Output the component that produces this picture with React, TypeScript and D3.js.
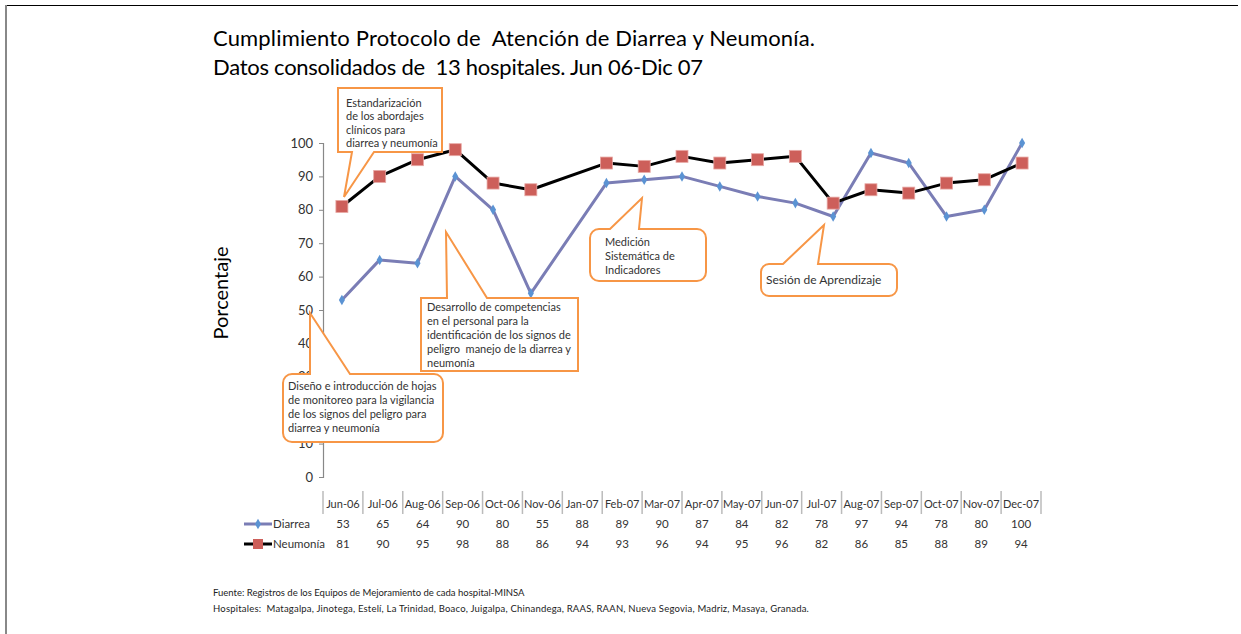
import React, { useEffect, useRef } from "react";
import * as d3 from "d3";

// table columns (as printed under the chart)
const months = [
  "Jun-06", "Jul-06", "Aug-06", "Sep-06", "Oct-06", "Nov-06", "Jan-07", "Feb-07", "Mar-07",
  "Apr-07", "May-07", "Jun-07", "Jul-07", "Aug-07", "Sep-07", "Oct-07", "Nov-07", "Dec-07",
];
// plotted slots: the chart keeps an empty slot for Dec-06
const slots = [
  "Jun-06", "Jul-06", "Aug-06", "Sep-06", "Oct-06", "Nov-06", "Dec-06", "Jan-07", "Feb-07", "Mar-07",
  "Apr-07", "May-07", "Jun-07", "Jul-07", "Aug-07", "Sep-07", "Oct-07", "Nov-07", "Dec-07",
];
const diarrea = [53, 65, 64, 90, 80, 55, 88, 89, 90, 87, 84, 82, 78, 97, 94, 78, 80, 100];
const neumonia = [81, 90, 95, 98, 88, 86, 94, 93, 96, 94, 95, 96, 82, 86, 85, 88, 89, 94];
const yTicks = [0, 10, 20, 30, 40, 50, 60, 70, 80, 90, 100];

const titleLines = [
  "Cumplimiento Protocolo de  Atención de Diarrea y Neumonía.",
  "Datos consolidados de  13 hospitales. Jun 06-Dic 07",
];
const titleWidths = [602, 490];
const footLines = [
  "Fuente: Registros de los Equipos de Mejoramiento de cada hospital-MINSA",
  "Hospitales:  Matagalpa, Jinotega, Estelí, La Trinidad, Boaco, Juigalpa, Chinandega, RAAS, RAAN, Nueva Segovia, Madriz, Masaya, Granada.",
];

const noteTexts = [
  ["Estandarización", "de los abordajes", "clínicos para", "diarrea y neumonía"],
  ["Desarrollo de competencias", "en el personal para la", "identificación de los signos de", "peligro  manejo de la diarrea y", "neumonía"],
  ["Diseño e introducción de hojas", "de monitoreo para la vigilancia", "de los signos del peligro para", "diarrea y neumonía"],
  ["Medición", "Sistemática de", "Indicadores"],
  ["Sesión de Aprendizaje"],
];

// callout geometry (layout only)
const noteBoxes = [
  { x: 338, y: 88, w: 104, h: 64, r: 0, edge: "bottom", a: 352, b: 374, tip: [344, 197], tx: 346, ty: 107, lh: 13.3 },
  { x: 421, y: 298, w: 157, h: 73, r: 0, edge: "top", a: 447, b: 487, tip: [446, 232], tx: 427, ty: 311, lh: 14 },
  { x: 283, y: 374, w: 160, h: 68, r: 9, edge: "top", a: 310, b: 350, tip: [310, 313], tx: 288, ty: 390, lh: 14 },
  { x: 590, y: 229, w: 116, h: 52, r: 9, edge: "top", a: 610, b: 639, tip: [642, 198], tx: 605, ty: 246, lh: 14 },
  { x: 761, y: 264, w: 136, h: 32, r: 8, edge: "top", a: 783, b: 818, tip: [824, 225], tx: 766, ty: 284, lh: 14 },
];

const FONT = "Lato, 'Open Sans', sans-serif";
const ORANGE = "#f79646";
const TEXT = "#333";

function calloutPath(n: any) {
  const { x, y, w, h, r, edge, a, b, tip } = n;
  const p = d3.path();
  p.moveTo(x + r, y);
  if (edge === "top") {
    p.lineTo(a, y);
    p.lineTo(tip[0], tip[1]);
    p.lineTo(b, y);
  }
  p.lineTo(x + w - r, y);
  if (r) p.arcTo(x + w, y, x + w, y + r, r);
  p.lineTo(x + w, y + h - r);
  if (r) p.arcTo(x + w, y + h, x + w - r, y + h, r);
  if (edge === "bottom") {
    p.lineTo(b, y + h);
    p.lineTo(tip[0], tip[1]);
    p.lineTo(a, y + h);
  }
  p.lineTo(x + r, y + h);
  if (r) p.arcTo(x, y + h, x, y + h - r, r);
  p.lineTo(x, y + r);
  if (r) p.arcTo(x, y, x + r, y, r);
  p.closePath();
  return p.toString();
}

export default function App() {
  const yAxisRef = useRef<SVGGElement>(null);

  const x = d3.scalePoint<string>().domain(slots).range([323, 1041]).padding(0.5);
  const y = d3.scaleLinear().domain([0, 100]).range([477, 143]);
  const col = d3.scaleBand<string>().domain(months).range([323, 1041]);

  const diaPts = months.map((m, i) => [x(m) as number, y(diarrea[i])] as [number, number]);
  const neuPts = months.map((m, i) => [x(m) as number, y(neumonia[i])] as [number, number]);
  const line = d3.line();

  useEffect(() => {
    const g = d3.select(yAxisRef.current);
    g.selectAll("*").remove();
    g.call(d3.axisLeft(y).tickValues(yTicks).tickSize(4).tickPadding(6));
    g.select(".domain").attr("stroke", "#888").attr("stroke-width", 1.2);
    g.selectAll(".tick line").attr("stroke", "#888");
    g.selectAll(".tick text")
      .attr("fill", TEXT)
      .style("font-family", FONT)
      .style("font-size", "13px");
  }, []);

  const diamond = d3.symbol().type(d3.symbolDiamond).size(32)();

  return (
    <svg
      width={1241}
      height={634}
      style={{ position: "absolute", left: 0, top: 0, background: "#fff" }}
      fontFamily={FONT}
    >
      {/* frame */}
      <line x1={5} y1={5.5} x2={1238} y2={5.5} stroke="#000" strokeWidth={1} />
      <line x1={6} y1={5} x2={6} y2={634} stroke="#888" strokeWidth={2} />

      {titleLines.map((t, i) => (
        <text
          key={i}
          x={213}
          y={46 + i * 29}
          fontSize={22}
          textLength={titleWidths[i]}
          lengthAdjust="spacing"
          fill="#000"
          style={{ whiteSpace: "pre" }}
        >
          {t}
        </text>
      ))}

      <text
        transform="translate(228,293) rotate(-90)"
        textAnchor="middle"
        fontSize={20}
        fill="#000"
      >
        Porcentaje
      </text>

      <g ref={yAxisRef} transform="translate(323,0)" />

      {/* series */}
      <path d={line(diaPts) || ""} fill="none" stroke="#7a7db5" strokeWidth={3} strokeLinejoin="round" />
      <path d={line(neuPts) || ""} fill="none" stroke="#000" strokeWidth={3} strokeLinejoin="round" />
      {diaPts.map((p, i) => (
        <path key={i} d={diamond || ""} transform={`translate(${p[0]},${p[1]})`} fill="#5b93d3" />
      ))}
      {neuPts.map((p, i) => (
        <rect key={i} x={p[0] - 6} y={p[1] - 6} width={12} height={12} fill="#cd5f5a" stroke="#e8a9a5" strokeWidth={0.8} />
      ))}

      {/* data table */}
      {months.map((m) => (
        <g key={m}>
          <line x1={col(m)} x2={col(m)} y1={491} y2={514} stroke="#bbb" strokeWidth={1.5} />
          <text x={(col(m) as number) + col.bandwidth() / 2} y={508} textAnchor="middle" fontSize={11} fill={TEXT}>
            {m}
          </text>
        </g>
      ))}
      <line x1={1041} x2={1041} y1={491} y2={514} stroke="#bbb" strokeWidth={1.5} />
      {months.map((m, i) => (
        <g key={"v" + m}>
          <text x={(col(m) as number) + col.bandwidth() / 2} y={528} textAnchor="middle" fontSize={11.5} fill={TEXT}>
            {diarrea[i]}
          </text>
          <text x={(col(m) as number) + col.bandwidth() / 2} y={548} textAnchor="middle" fontSize={11.5} fill={TEXT}>
            {neumonia[i]}
          </text>
        </g>
      ))}
      {/* legend keys */}
      <line x1={244} x2={272} y1={524} y2={524} stroke="#7a7db5" strokeWidth={3} />
      <path d={diamond || ""} transform="translate(258,524)" fill="#5b93d3" />
      <text x={273} y={528} fontSize={11.5} fill={TEXT}>Diarrea</text>
      <line x1={244} x2={272} y1={544} y2={544} stroke="#000" strokeWidth={3} />
      <rect x={253} y={539} width={10} height={10} fill="#cd5f5a" />
      <text x={273} y={548} fontSize={11.5} fill={TEXT}>Neumonía</text>

      {/* callouts */}
      {noteBoxes.map((n, i) => (
        <g key={"n" + i}>
          <path d={calloutPath(n)} fill="#fff" stroke={ORANGE} strokeWidth={2} strokeLinejoin="miter" />
          {noteTexts[i].map((t, j) => (
            <text key={j} x={n.tx} y={n.ty + j * n.lh} fontSize={i === 4 ? 12 : 11} fill={TEXT} style={{ whiteSpace: "pre" }}>
              {t}
            </text>
          ))}
        </g>
      ))}

      {/* footnote */}
      {footLines.map((t, i) => (
        <text key={i} x={213} y={596 + i * 16} fontSize={9.5} letterSpacing={i === 1 ? 0.2 : 0} fill="#222" style={{ whiteSpace: "pre" }}>
          {t}
        </text>
      ))}
    </svg>
  );
}
